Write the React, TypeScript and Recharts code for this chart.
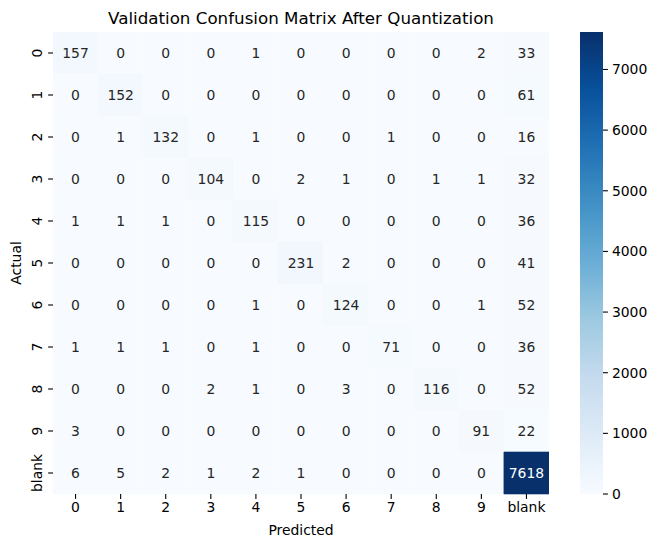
import React from 'react';
import { BarChart, Bar, XAxis, YAxis, Cell, LabelList } from 'recharts';

// Tick labels (predicted columns / actual rows)
const classLabels = ['0', '1', '2', '3', '4', '5', '6', '7', '8', '9', 'blank'];

// Confusion matrix rows (actual class), columns = predicted class
const actual0 = [157, 0, 0, 0, 1, 0, 0, 0, 0, 2, 33];
const actual1 = [0, 152, 0, 0, 0, 0, 0, 0, 0, 0, 61];
const actual2 = [0, 1, 132, 0, 1, 0, 0, 1, 0, 0, 16];
const actual3 = [0, 0, 0, 104, 0, 2, 1, 0, 1, 1, 32];
const actual4 = [1, 1, 1, 0, 115, 0, 0, 0, 0, 0, 36];
const actual5 = [0, 0, 0, 0, 0, 231, 2, 0, 0, 0, 41];
const actual6 = [0, 0, 0, 0, 1, 0, 124, 0, 0, 1, 52];
const actual7 = [1, 1, 1, 0, 1, 0, 0, 71, 0, 0, 36];
const actual8 = [0, 0, 0, 2, 1, 0, 3, 0, 116, 0, 52];
const actual9 = [3, 0, 0, 0, 0, 0, 0, 0, 0, 91, 22];
const actualBlank = [6, 5, 2, 1, 2, 1, 0, 0, 0, 0, 7618];

const colorbarTicks = [0, 1000, 2000, 3000, 4000, 5000, 6000, 7000];

const matrix = [actual0, actual1, actual2, actual3, actual4, actual5, actual6, actual7, actual8, actual9, actualBlank];
const vmax = Math.max(...matrix.map((r) => Math.max(...r)));

// matplotlib "Blues" colormap anchors
const BLUES = [
  [247, 251, 255],
  [222, 235, 247],
  [198, 219, 239],
  [158, 202, 225],
  [107, 174, 214],
  [66, 146, 198],
  [33, 113, 181],
  [8, 81, 156],
  [8, 48, 107],
];

function bluesRgb(t: number): number[] {
  const tt = Math.max(0, Math.min(1, t));
  const pos = tt * (BLUES.length - 1);
  const i = Math.min(BLUES.length - 2, Math.floor(pos));
  const f = pos - i;
  const a = BLUES[i];
  const b = BLUES[i + 1];
  return [0, 1, 2].map((k) => a[k] + (b[k] - a[k]) * f);
}
function blues(t: number): string {
  const c = bluesRgb(t).map((v) => Math.round(v));
  return `rgb(${c[0]},${c[1]},${c[2]})`;
}
function textColorFor(t: number): string {
  const c = bluesRgb(t).map((v) => {
    const s = v / 255;
    return s <= 0.03928 ? s / 12.92 : Math.pow((s + 0.055) / 1.055, 2.4);
  });
  const lum = 0.2126 * c[0] + 0.7152 * c[1] + 0.0722 * c[2];
  return lum > 0.408 ? '#262626' : '#ffffff';
}

const tableData = classLabels.map((lab, r) => {
  const o: Record<string, any> = { row: lab };
  classLabels.forEach((_, c) => {
    o[`w${c}`] = 1;
    o[`v${c}`] = matrix[r][c];
  });
  return o;
});

const colorbarData = [{ k: 'cbar', v: vmax }];

const FONT = 'DejaVu Sans, sans-serif';
const FS = 13.9;

const YTick = (props: any) => {
  const { x, y, payload } = props;
  const bx = x - 6;
  return (
    <text
      x={bx}
      y={y}
      transform={`rotate(-90, ${bx}, ${y})`}
      textAnchor="middle"
      fill="#000"
      fontFamily={FONT}
      fontSize={FS}
    >
      {payload.value}
    </text>
  );
};

const makeCellLabel = (col: number) => (props: any) => {
  const { x, y, width, height, value } = props;
  const t = value / vmax;
  return (
    <text
      x={x + width / 2}
      y={y + height / 2}
      dy="0.36em"
      textAnchor="middle"
      fill={textColorFor(t)}
      fontFamily={FONT}
      fontSize={FS}
    >
      {value}
    </text>
  );
};

export default function App() {
  return (
    <div style={{ position: 'absolute', left: 0, top: 0, width: 658, height: 547, background: '#fff' }}>
      <div style={{ position: 'absolute', left: 0, top: 0 }}>
        <BarChart
          width={560}
          height={547}
          data={tableData}
          layout="vertical"
          margin={{ top: 32, right: 11, bottom: 23, left: 0 }}
          barCategoryGap={0}
          barGap={0}
        >
          <XAxis
            type="number"
            domain={[0, 11]}
            ticks={classLabels.map((_, i) => i + 0.5)}
            tickFormatter={(v: number) => classLabels[Math.floor(v)]}
            axisLine={false}
            tickSize={4.9}
            tickMargin={3}
            tickLine={{ stroke: '#000', strokeWidth: 1.1 }}
            tick={{ fill: '#000', fontFamily: FONT, fontSize: FS }}
            interval={0}
            height={30}
            allowDataOverflow
          />
          <YAxis
            type="category"
            dataKey="row"
            width={53}
            axisLine={false}
            tickSize={4.9}
            tickMargin={0}
            tickLine={{ stroke: '#000', strokeWidth: 1.1 }}
            tick={<YTick />}
            interval={0}
          />
          {classLabels.map((_, c) => (
            <Bar key={c} dataKey={`w${c}`} stackId="m" isAnimationActive={false}>
              {tableData.map((_, r) => {
                const f = blues(matrix[r][c] / vmax);
                return <Cell key={r} fill={f} stroke={f} strokeWidth={0.6} />;
              })}
              <LabelList dataKey={`v${c}`} content={makeCellLabel(c)} />
            </Bar>
          ))}
        </BarChart>
      </div>

      <div style={{ position: 'absolute', left: 580, top: 0 }}>
        <BarChart
          width={83}
          height={547}
          data={colorbarData}
          margin={{ top: 32, right: 0, bottom: 53, left: 0 }}
          barCategoryGap={0}
        >
          <defs>
            <linearGradient id="bluesGrad" x1="0" y1="1" x2="0" y2="0">
              {BLUES.map((c, i) => (
                <stop key={i} offset={`${(i / (BLUES.length - 1)) * 100}%`} stopColor={`rgb(${c[0]},${c[1]},${c[2]})`} />
              ))}
            </linearGradient>
          </defs>
          <XAxis type="category" dataKey="k" hide />
          <YAxis
            type="number"
            orientation="right"
            domain={[0, vmax]}
            ticks={colorbarTicks}
            width={60}
            axisLine={false}
            tickSize={4.9}
            tickMargin={4}
            tickLine={{ stroke: '#000', strokeWidth: 1.1 }}
            tick={{ fill: '#000', fontFamily: FONT, fontSize: FS, textAnchor: 'start' }}
            interval={0}
            allowDataOverflow
          />
          <Bar dataKey="v" fill="url(#bluesGrad)" isAnimationActive={false} />
        </BarChart>
      </div>

      <svg
        width={658}
        height={547}
        style={{ position: 'absolute', left: 0, top: 0, pointerEvents: 'none' }}
      >
        <text x={301} y={24} textAnchor="middle" fontFamily={FONT} fontSize={16.7} fill="#000">
          Validation Confusion Matrix After Quantization
        </text>
        <text x={301} y={535} textAnchor="middle" fontFamily={FONT} fontSize={FS} fill="#000">
          Predicted
        </text>
        <text
          x={20.5}
          y={263}
          transform="rotate(-90, 20.5, 263)"
          textAnchor="middle"
          fontFamily={FONT}
          fontSize={FS}
          fill="#000"
        >
          Actual
        </text>
      </svg>
    </div>
  );
}
